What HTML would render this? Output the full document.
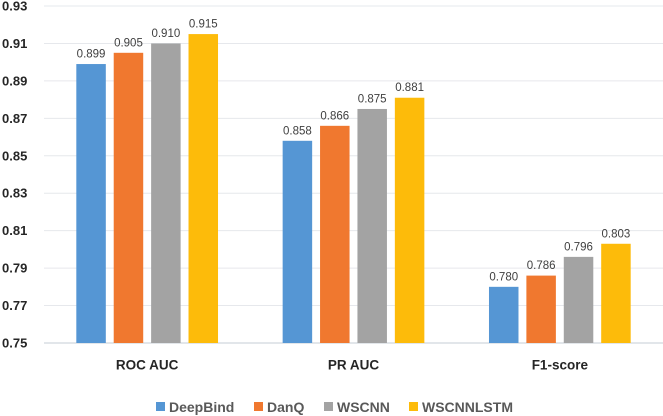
<!DOCTYPE html>
<html>
<head>
<meta charset="utf-8">
<style>
html,body{margin:0;padding:0;background:#fff;width:663px;height:416px;overflow:hidden}
svg{display:block;font-family:"Liberation Sans",sans-serif}
</style>
</head>
<body>
<svg id="chart" width="663" height="416" viewBox="0 0 663 416" xmlns="http://www.w3.org/2000/svg"></svg>
<script>
const categories = ["ROC AUC", "PR AUC", "F1-score"];
const seriesNames = ["DeepBind", "DanQ", "WSCNN", "WSCNNLSTM"];
const deepBind = [0.899, 0.858, 0.780];
const danQ = [0.905, 0.866, 0.786];
const wscnn = [0.910, 0.875, 0.796];
const wscnnLstm = [0.915, 0.881, 0.803];
const yTicks = [0.75, 0.77, 0.79, 0.81, 0.83, 0.85, 0.87, 0.89, 0.91, 0.93];
const seriesValues = [deepBind, danQ, wscnn, wscnnLstm];
const seriesColors = ["#5596d4", "#f0782f", "#a3a3a3", "#fdbb0a"];

const svg = document.getElementById('chart');
const NS = 'http://www.w3.org/2000/svg';
function make(tag, attrs, text) {
  const el = document.createElementNS(NS, tag);
  for (const k in attrs) el.setAttribute(k, attrs[k]);
  if (text !== undefined) el.textContent = text;
  svg.appendChild(el);
  return el;
}
const plotLeft = 44, plotRight = 663, yBase = 343, yTop = 6;
const yMin = yTicks[0], yMax = yTicks[yTicks.length - 1];
function yScale(v) { return yBase - (v - yMin) / (yMax - yMin) * (yBase - yTop); }
const groupWidth = (plotRight - plotLeft) / categories.length;
const barWidth = 29.5, barStep = 37.4;
function xCenter(i) { return plotLeft + groupWidth * (i + 0.5); }
function barX(i, s) { return xCenter(i) + (s - seriesValues.length / 2) * barStep + (barStep - barWidth) / 2; }

yTicks.forEach(function (t) {
  const line = make('line', {x1: plotLeft, x2: plotRight, y1: yScale(t), y2: yScale(t), stroke: t === yMin ? '#d9dde3' : '#e6e8ec', 'stroke-width': t === yMin ? 1.5 : 1});
  
  
  const label = make('text', {x: 2, y: yScale(t) + 4.5, 'font-size': 13, 'font-weight': 'bold', fill: '#262626'}, t.toFixed(2));
  
  
});

categories.forEach(function (c, i) {
  seriesValues.forEach(function (vals, s) {
    const y = yScale(vals[i]);
    const bar = make('rect', {x: barX(i, s), y: y, width: barWidth, height: yBase - y, fill: seriesColors[s]});
    
    
    const val = make('text', {x: barX(i, s) + barWidth / 2, y: y - 6.5, 'text-anchor': 'middle', 'font-size': 11.5, fill: '#404040'}, vals[i].toFixed(3));
    
    
  });
  const cat = make('text', {x: xCenter(i), y: 369.5, 'text-anchor': 'middle', 'font-size': 13.5, 'font-weight': 'bold', fill: '#262626'}, c);
  
  
});

const legendSwatchX = [156, 254, 324, 409];
const legendY = 402;
seriesNames.forEach(function (n, s) {
  const sw = make('rect', {x: legendSwatchX[s], y: legendY, width: 9, height: 9, fill: seriesColors[s]});
  
  
  const tx = make('text', {x: legendSwatchX[s] + 13, y: legendY + 10, 'font-size': 14, 'font-weight': 'bold', fill: '#595959'}, n);
  
  
});
</script>
</body>
</html>
